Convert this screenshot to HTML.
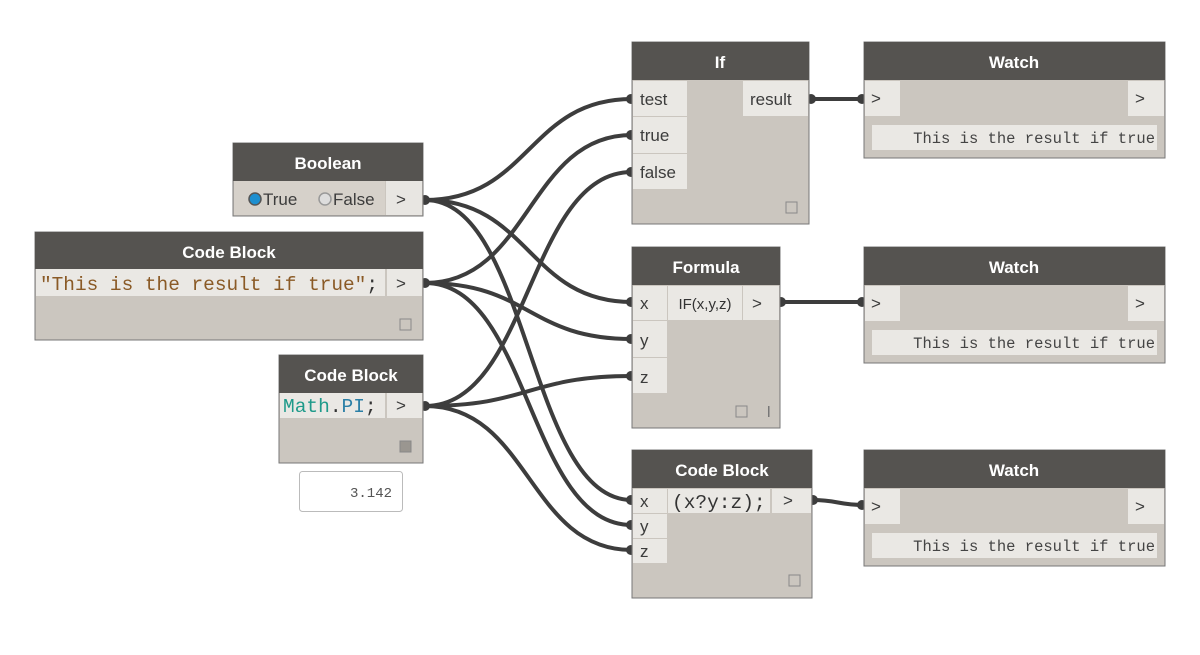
<!DOCTYPE html>
<html><head><meta charset="utf-8"><style>
body{margin:0;background:#fff}
svg text{font-family:"Liberation Sans",sans-serif}
.h{fill:#fff;font-weight:bold;font-size:17px;text-anchor:middle}
.p{fill:#3c3c3c;font-size:17px}
.m{font-family:"Liberation Mono",monospace!important;font-size:19.5px}
</style></head><body>
<svg width="1200" height="650" viewBox="0 0 1200 650" xmlns="http://www.w3.org/2000/svg">
<g fill="none" stroke="#3d3d3d" stroke-width="4">
<path d="M425 200 C530 200 528 99 632 99"/>
<path d="M425 200 C530 200 528 302 632 302"/>
<path d="M425 200 C530 200 528 500 632 500"/>
<path d="M425 283 C530 283 528 135 632 135"/>
<path d="M425 283 C530 283 528 339 632 339"/>
<path d="M425 283 C530 283 528 525 632 525"/>
<path d="M425 406 C530 406 528 172 632 172"/>
<path d="M425 406 C530 406 528 376 632 376"/>
<path d="M425 406 C530 406 528 550 632 550"/>
<path d="M810 99 L864 99"/>
<path d="M780 302 L864 302"/>
<path d="M812 500 C838 500 838 505 864 505"/>
</g>
<g fill="#3d3d3d">
<circle cx="425" cy="200" r="5"/><circle cx="425" cy="283" r="5"/><circle cx="425" cy="406" r="5"/>
<circle cx="631" cy="99" r="5"/><circle cx="631" cy="135" r="5"/><circle cx="631" cy="172" r="5"/>
<circle cx="631" cy="302" r="5"/><circle cx="631" cy="339" r="5"/><circle cx="631" cy="376" r="5"/>
<circle cx="631" cy="500" r="5"/><circle cx="631" cy="525" r="5"/><circle cx="631" cy="550" r="5"/>
<circle cx="811" cy="99" r="5"/><circle cx="862" cy="99" r="5"/>
<circle cx="781" cy="302" r="5"/><circle cx="862" cy="302" r="5"/>
<circle cx="813" cy="500" r="5"/><circle cx="862" cy="505" r="5"/>
</g>

<!-- Boolean -->
<rect x="233" y="143" width="190" height="73" fill="#cbc6bf" stroke="#777" stroke-width="1"/>
<rect x="233" y="143" width="190" height="38" fill="#555350"/>
<text class="h" x="328" y="169">Boolean</text>
<rect x="234" y="181" width="151" height="34" fill="#d6d1ca"/>
<rect x="386" y="181" width="36" height="34" fill="#e8e6e2"/>
<circle cx="255" cy="199" r="6" fill="#1d8fd0" stroke="#555" stroke-width="1.5"/>
<text class="p" x="263" y="205">True</text>
<circle cx="325" cy="199" r="6" fill="#ddd" stroke="#999" stroke-width="1.5"/>
<text class="p" x="333" y="205">False</text>
<text class="p" x="396" y="205">&gt;</text>

<!-- Code Block 1 -->
<rect x="35" y="232" width="388" height="108" fill="#cbc6bf" stroke="#777" stroke-width="1"/>
<rect x="35" y="232" width="388" height="37" fill="#555350"/>
<text class="h" x="229" y="258">Code Block</text>
<rect x="36" y="269" width="349" height="27" fill="#eae8e4"/>
<rect x="387" y="269" width="35" height="27" fill="#eae8e4"/>
<text class="m" x="40" y="290" fill="#8a5a26" textLength="338" lengthAdjust="spacingAndGlyphs">"This is the result if true"<tspan fill="#333">;</tspan></text>
<text class="p" x="396" y="289">&gt;</text>
<rect x="400" y="319" width="11" height="11" fill="none" stroke="#888"/>

<!-- Code Block 2 -->
<rect x="279" y="355" width="144" height="108" fill="#cbc6bf" stroke="#777" stroke-width="1"/>
<rect x="279" y="355" width="144" height="38" fill="#555350"/>
<text class="h" x="351" y="381">Code Block</text>
<rect x="280" y="393" width="105" height="25" fill="#eae8e4"/>
<rect x="387" y="393" width="35" height="25" fill="#eae8e4"/>
<text class="m" x="283" y="412" fill="#1e9a8a">Math<tspan fill="#333">.</tspan><tspan fill="#2b7fa6">PI</tspan><tspan fill="#333">;</tspan></text>
<text class="p" x="396" y="411">&gt;</text>
<rect x="400" y="441" width="11" height="11" fill="#9a9690" stroke="#888"/>
<rect x="299.5" y="471.5" width="103" height="40" rx="3" fill="#fff" stroke="#bbb"/>
<text class="m" x="392" y="497" fill="#555" text-anchor="end" style="font-size:14px">3.142</text>

<!-- If -->
<rect x="632" y="42" width="177" height="182" fill="#cbc6bf" stroke="#777" stroke-width="1"/>
<rect x="632" y="42" width="177" height="38" fill="#555350"/>
<text class="h" x="720" y="68">If</text>
<rect x="633" y="81" width="54" height="35" fill="#eae8e4"/>
<rect x="633" y="117" width="54" height="36" fill="#eae8e4"/>
<rect x="633" y="154" width="54" height="35" fill="#eae8e4"/>
<rect x="743" y="81" width="65" height="35" fill="#eae8e4"/>
<text class="p" x="640" y="105">test</text>
<text class="p" x="640" y="141">true</text>
<text class="p" x="640" y="178">false</text>
<text class="p" x="750" y="105">result</text>
<rect x="786" y="202" width="11" height="11" fill="none" stroke="#888"/>

<!-- Formula -->
<rect x="632" y="247" width="148" height="181" fill="#cbc6bf" stroke="#777" stroke-width="1"/>
<rect x="632" y="247" width="148" height="38" fill="#555350"/>
<text class="h" x="706" y="273">Formula</text>
<rect x="633" y="286" width="34" height="34" fill="#eae8e4"/>
<rect x="633" y="321" width="34" height="36" fill="#eae8e4"/>
<rect x="633" y="358" width="34" height="35" fill="#eae8e4"/>
<rect x="668" y="286" width="74" height="34" fill="#eae8e4"/>
<rect x="743" y="286" width="36" height="34" fill="#eae8e4"/>
<text class="p" x="640" y="309">x</text>
<text class="p" x="640" y="346">y</text>
<text class="p" x="640" y="383">z</text>
<text x="705" y="309" fill="#333" font-size="15" text-anchor="middle">IF(x,y,z)</text>
<text class="p" x="752" y="309">&gt;</text>
<rect x="736" y="406" width="11" height="11" fill="none" stroke="#888"/>
<rect x="768" y="406" width="1.5" height="11" fill="#777"/>

<!-- Code Block 3 -->
<rect x="632" y="450" width="180" height="148" fill="#cbc6bf" stroke="#777" stroke-width="1"/>
<rect x="632" y="450" width="180" height="38" fill="#555350"/>
<text class="h" x="722" y="476">Code Block</text>
<rect x="633" y="489" width="34" height="24" fill="#eae8e4"/>
<rect x="633" y="514" width="34" height="24" fill="#eae8e4"/>
<rect x="633" y="539" width="34" height="24" fill="#eae8e4"/>
<rect x="668" y="489" width="102" height="24" fill="#eae8e4"/>
<rect x="772" y="489" width="39" height="24" fill="#eae8e4"/>
<text class="p" x="640" y="507">x</text>
<text class="p" x="640" y="532">y</text>
<text class="p" x="640" y="557">z</text>
<text class="m" x="672" y="508" fill="#333">(x?y:z);</text>
<text class="p" x="783" y="506">&gt;</text>
<rect x="789" y="575" width="11" height="11" fill="none" stroke="#888"/>

<!-- Watches -->
<g id="w">
<rect x="864" y="42" width="301" height="116" fill="#cbc6bf" stroke="#777" stroke-width="1"/>
<rect x="864" y="42" width="301" height="38" fill="#555350"/>
<text class="h" x="1014" y="68">Watch</text>
<rect x="865" y="81" width="35" height="35" fill="#eae8e4"/>
<rect x="1128" y="81" width="36" height="35" fill="#eae8e4"/>
<text class="p" x="871" y="104">&gt;</text>
<text class="p" x="1135" y="104">&gt;</text>
<rect x="872" y="125" width="285" height="25" fill="#eae8e4"/>
<text class="m" x="1155" y="143" fill="#444" text-anchor="end" style="font-size:15.5px">This is the result if true</text>
</g>
<use href="#w" y="205"/>
<use href="#w" y="408"/>
</svg>
</body></html>
